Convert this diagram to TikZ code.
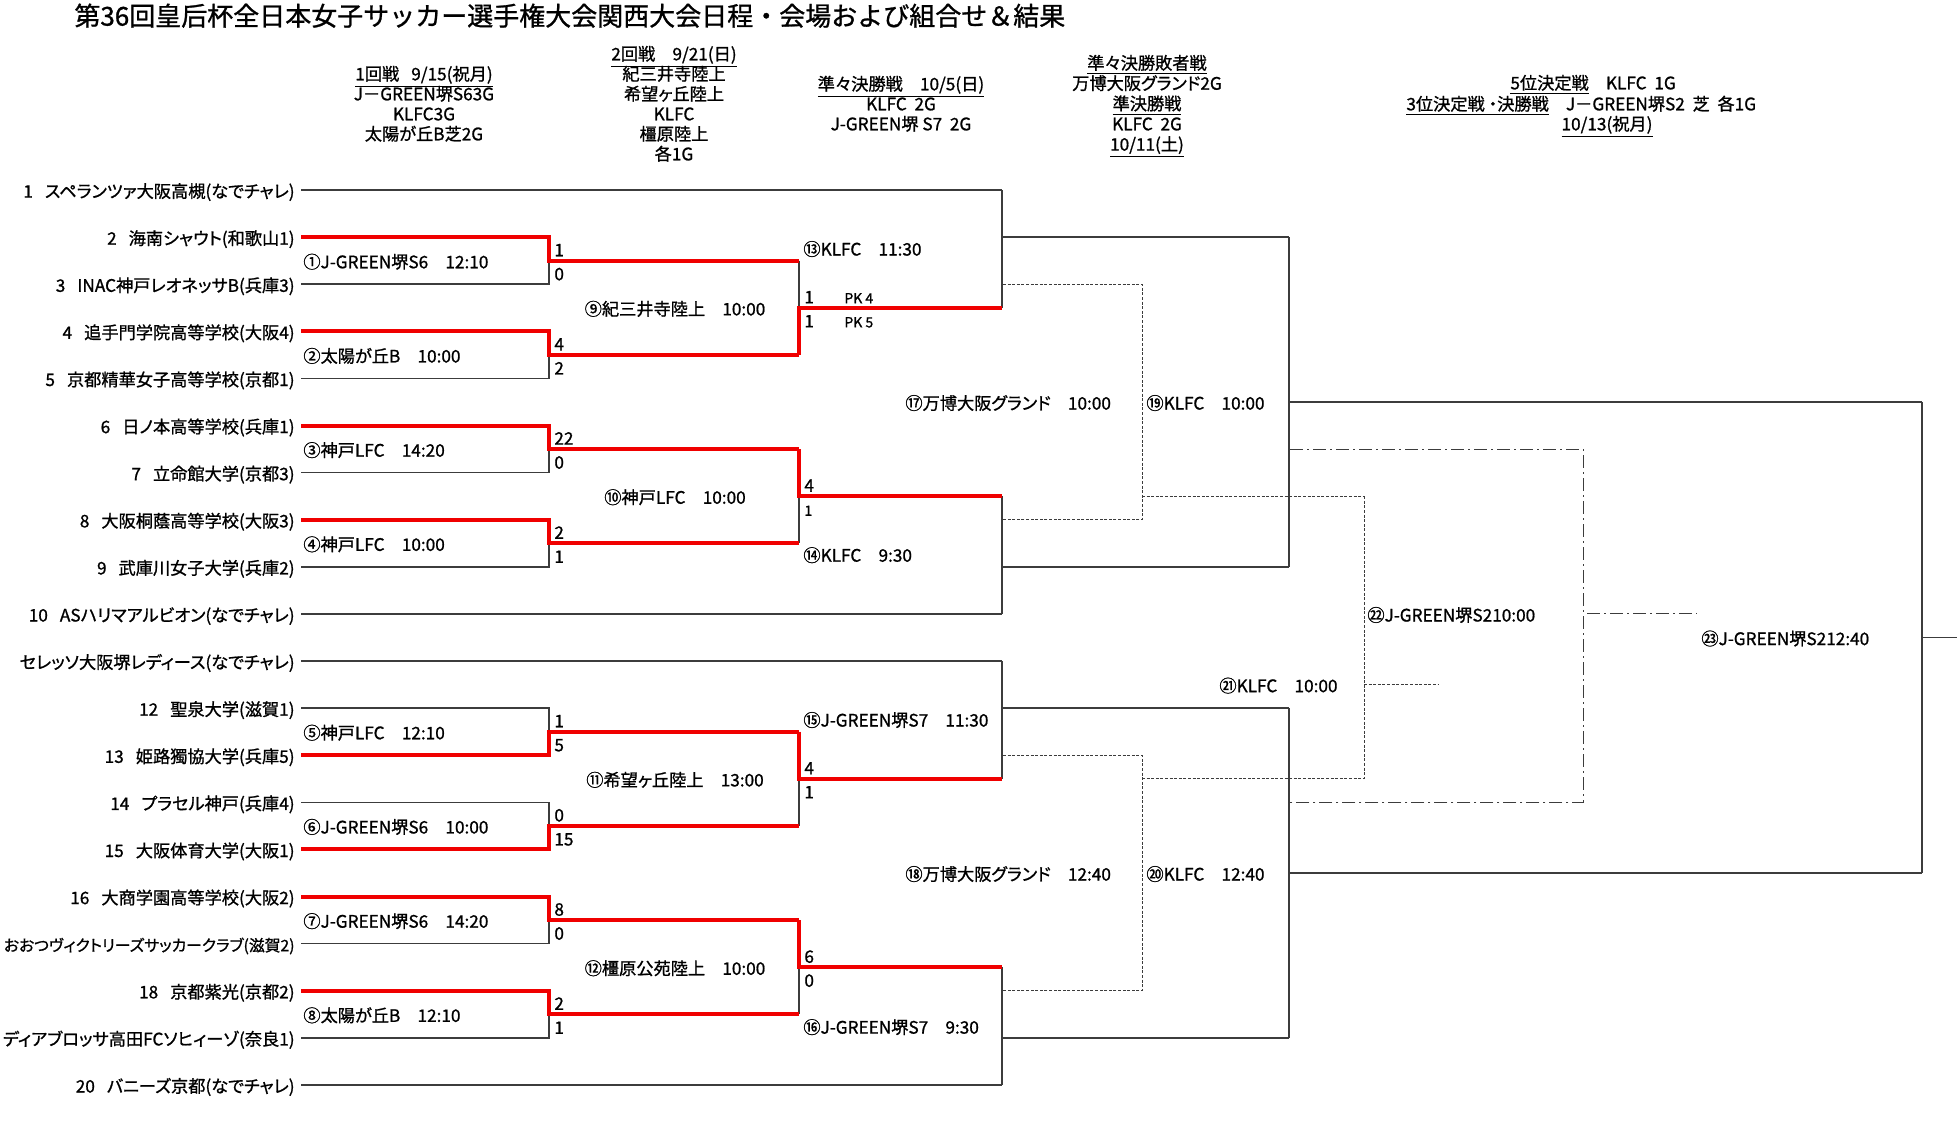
\documentclass[tikz,border=0pt]{standalone}
\usepackage{fontspec}
\setmainfont{Noto Sans CJK JP}[RawFeature=+palt, FakeBold=1.0]
\newfontfamily\titlefont{Noto Sans CJK JP}[FakeBold=1.0]
\usetikzlibrary{calc}
\definecolor{linegray}{HTML}{3C3C3C}
\definecolor{winred}{HTML}{F00000}
\def\bodysize{\fontsize{8.6pt}{10pt}\selectfont}
\def\smallsize{\fontsize{7pt}{8pt}\selectfont}
\def\gap{\hspace{0.7em}}
\tikzset{
  txt/.style={inner sep=0pt, text height=0.88em, text depth=0.12em},
  team/.style={txt, anchor=east, font=\bodysize},
  game/.style={txt, anchor=west, font=\bodysize},
  gamec/.style={txt, font=\bodysize},
  head/.style={txt, font=\bodysize},
  pts/.style={txt, anchor=west, font=\bodysize},
  pk/.style={txt, anchor=west, font=\smallsize},
  bline/.style={draw=linegray, line width=0.75pt},
  rline/.style={draw=winred, line width=2pt, line join=miter},
  dline/.style={draw=linegray, line width=0.5pt, dash pattern=on 1.5pt off 0.8pt},
  ddline/.style={draw=linegray, line width=0.5pt, dash pattern=on 6.5pt off 2pt on 1pt off 2pt},
}

\begin{document}
\begin{tikzpicture}[x=0.5pt, y=-0.5pt]
\useasboundingbox[fill=white] (0,0) rectangle (1957,1126);

% title and schedule
\node[txt, anchor=west, font=\titlefont\fontsize{13pt}{15pt}\selectfont] (title) at (74,18)
  {第36回皇后杯全日本女子サッカー選手権大会関西大会日程・会場および組合せ＆結果};
\foreach \t [count=\k] in {\underline{1回戦\gap9/15(祝月)}, J－GREEN堺S63G, KLFC3G, 太陽が丘B芝2G}
  \node[head] (ha\k) at (424,{52.7+20*\k}) {\t};
\foreach \t [count=\k] in {\underline{2回戦\quad9/21(日)}, 紀三井寺陸上, 希望ヶ丘陸上, KLFC, 橿原陸上, 各1G}
  \node[head] (hb\k) at (674,{32.7+20*\k}) {\t};
\foreach \t [count=\k] in {\underline{準々決勝戦\quad10/5(日)}, KLFC\ \ 2G, J-GREEN堺\ S7\ \ 2G}
  \node[head] (hc\k) at (901,{62.7+20*\k}) {\t};
\foreach \t [count=\k] in {\underline{準々決勝敗者戦}, 万博大阪グランド2G, \underline{準決勝戦}, KLFC\ \ 2G, \underline{10/11(土)}}
  \node[head] (hd\k) at (1147,{41.5+20.3*\k}) {\t};
\node[head, anchor=west] (he1) at (1510,81.7) {\underline{5位決定戦}\quad KLFC\ \ 1G};
\node[head, anchor=west] (he2) at (1406,102.7) {\underline{3位決定戦\ ・決勝戦}\quad J－GREEN堺S2\ \ 芝\ \ 各1G};
\node[head] (he3) at (1607,122.7) {\underline{10/13(祝月)}};

\begin{scope}[y=-11.775pt, yshift=-95pt]
% teams
\foreach \i/\t in {
  1/{1\gap スペランツァ大阪高槻(なでチャレ)}, 2/{2\gap 海南シャウト(和歌山1)},
  3/{3\gap INAC神戸レオネッサB(兵庫3)}, 4/{4\gap 追手門学院高等学校(大阪4)},
  5/{5\gap 京都精華女子高等学校(京都1)}, 6/{6\gap 日ノ本高等学校(兵庫1)},
  7/{7\gap 立命館大学(京都3)}, 8/{8\gap 大阪桐蔭高等学校(大阪3)},
  9/{9\gap 武庫川女子大学(兵庫2)}, 10/{10\gap ASハリマアルビオン(なでチャレ)},
  11/{セレッソ大阪堺レディース(なでチャレ)}, 12/{12\gap 聖泉大学(滋賀1)},
  13/{13\gap 姫路獨協大学(兵庫5)}, 14/{14\gap プラセル神戸(兵庫4)},
  15/{15\gap 大阪体育大学(大阪1)}, 16/{16\gap 大商学園高等学校(大阪2)},
  17/{\fontsize{7.9pt}{10pt}\selectfont おおつヴィクトリーズサッカークラブ(滋賀2)}, 18/{18\gap 京都紫光(京都2)},
  19/{ディアブロッサ高田FCソヒィーゾ(奈良1)}, 20/{20\gap バニーズ京都(なでチャレ)}}{
  \node[team] (n\i) at (295,{2*(\i-1)}) {\t};
  \coordinate (p\i) at (301,{2*(\i-1)});
  \coordinate (e\i) at (549,{2*(\i-1)});
  \coordinate (b\i) at (1002,{2*(\i-1)});
}
\foreach \i in {1,10,11,20}
  \draw[bline] (p\i) -- (b\i);

% 1st round
\foreach \m/\a/\b in {1/2/3, 2/4/5, 3/6/7, 4/8/9, 5/12/13, 6/14/15, 7/16/17, 8/18/19}{
  \coordinate (j\m) at ($(e\a)!0.5!(e\b)$);
  \coordinate (k\m) at ($(j\m)+(250,0)$);
  \draw[bline] (p\a) -- (e\a) -- (e\b) -- (p\b);
  \draw[bline] (j\m) -- (k\m);
}
% 2nd round
\foreach \m/\a/\b in {9/1/2, 10/3/4, 11/5/6, 12/7/8}{
  \coordinate (j\m) at ($(k\a)!0.5!(k\b)$);
  \coordinate (k\m) at ($(j\m)+(203,0)$);
  \draw[bline] (k\a) -- (k\b);
  \draw[bline] (j\m) -- (k\m);
}
% quarter finals
\foreach \m/\a/\b/\r in {13/b1/k9/2, 14/k10/b10/16, 15/b11/k11/22, 16/k12/b20/36}{
  \coordinate (j\m) at (1002,\r);
  \coordinate (k\m) at (1289,\r);
  \draw[bline] (\a) -- (\b);
  \draw[bline] (j\m) -- (k\m);
}
% semi finals and final
\foreach \m/\a/\b/\r in {19/k13/k14/9, 20/k15/k16/29}{
  \coordinate (j\m) at (1289,\r);
  \coordinate (k\m) at (1922,\r);
  \draw[bline] (\a) -- (\b);
  \draw[bline] (j\m) -- (k\m);
}
\coordinate (j23) at (1922,19);
\coordinate (k23) at (1957,19);
\draw[bline] (k19) -- (k20);
\draw[bline] (j23) -- (k23);

% losers' games
\foreach \m/\t/\u/\o in {17/4/14/13, 18/24/34/25}{
  \coordinate (la\m) at (1003,\t);
  \coordinate (lb\m) at (1142,\t);
  \coordinate (lc\m) at (1142,\u);
  \coordinate (ld\m) at (1003,\u);
  \coordinate (lo\m) at (1142,\o);
  \coordinate (le\m) at (1364,\o);
  \draw[dline] (la\m) -- (lb\m) -- (lc\m) -- (ld\m);
  \draw[dline] (lo\m) -- (le\m);
}
\coordinate (lo21) at (1364,21);
\coordinate (le21) at (1438,21);
\draw[dline] (le17) -- (le18);
\draw[dline] (lo21) -- (le21);
\coordinate (ta) at (1290,11);
\coordinate (tb) at (1583,11);
\coordinate (tc) at (1583,26);
\coordinate (td) at (1290,26);
\coordinate (to) at (1587,18);
\coordinate (te) at (1697,18);
\draw[ddline] (ta) -- (tb) -- (tc) -- (td);
\draw[ddline] (to) -- (te);

% winners
\foreach \m/\w in {1/2, 2/4, 3/6, 4/8, 5/13, 6/15, 7/16, 8/18}
  \draw[rline] (p\w) -- (e\w) -- (j\m) -- (k\m);
\foreach \m/\w in {9/2, 10/3, 11/5, 12/7}
  \draw[rline] (k\w) -- (j\m) -- (k\m);

% scores
\foreach \m/\hi/\lo in {1/1/0, 2/4/2, 3/22/0, 4/2/1, 5/1/5, 6/0/15, 7/8/0, 8/2/1, 9/1/1, 11/4/1, 12/6/0}{
  \node[pts] (sa\m) at ($(j\m)+(5,-0.51)$) {\hi};
  \node[pts] (sb\m) at ($(j\m)+(5,0.51)$) {\lo};
}
\node[pts] (sa10) at ($(j10)+(5,-0.51)$) {4};
\node[pk] (sb10) at ($(j10)+(5,0.51)$) {1};
\node[pk] (pk9a) at ($(j9)+(45,-0.51)$) {PK 4};
\node[pk] (pk9b) at ($(j9)+(45,0.51)$) {PK 5};

% venues and kick-off
\foreach \m/\t in {1/{①J-GREEN堺S6　12:10}, 2/{②太陽が丘B　10:00}, 3/{③神戸LFC　14:20},
  4/{④神戸LFC　10:00}, 5/{⑤神戸LFC　12:10}, 6/{⑥J-GREEN堺S6　10:00},
  7/{⑦J-GREEN堺S6　14:20}, 8/{⑧太陽が丘B　12:10}}
  \node[game] (v\m) at ($(j\m)-(246,0)$) {\t};
\foreach \m/\t in {9/{⑨紀三井寺陸上　10:00}, 10/{⑩神戸LFC　10:00},
  11/{⑪希望ヶ丘陸上　13:00}, 12/{⑫橿原公苑陸上　10:00}}
  \node[gamec] (v\m) at ($(j\m)-(124,0)$) {\t};
\foreach \m/\r/\t in {13/2.46/{⑬KLFC　11:30}, 14/15.46/{⑭KLFC　9:30},
  15/22.46/{⑮J-GREEN堺S7　11:30}, 16/35.5/{⑯J-GREEN堺S7　9:30}}
  \node[game] (v\m) at (803,\r) {\t};
\node[game] (v17) at (905,9) {⑰万博大阪グランド　10:00};
\node[game] (v18) at (905,29) {⑱万博大阪グランド　12:40};
\node[game] (v19) at (1146,9) {⑲KLFC　10:00};
\node[game] (v20) at (1146,29) {⑳KLFC　12:40};
\node[game] (v21) at (1219,21) {㉑KLFC　10:00};
\node[game] (v22) at (1367,18) {㉒J-GREEN堺S210:00};
\node[game] (v23) at (1701,19) {㉓J-GREEN堺S212:40};
\end{scope}
\end{tikzpicture}
\end{document}
